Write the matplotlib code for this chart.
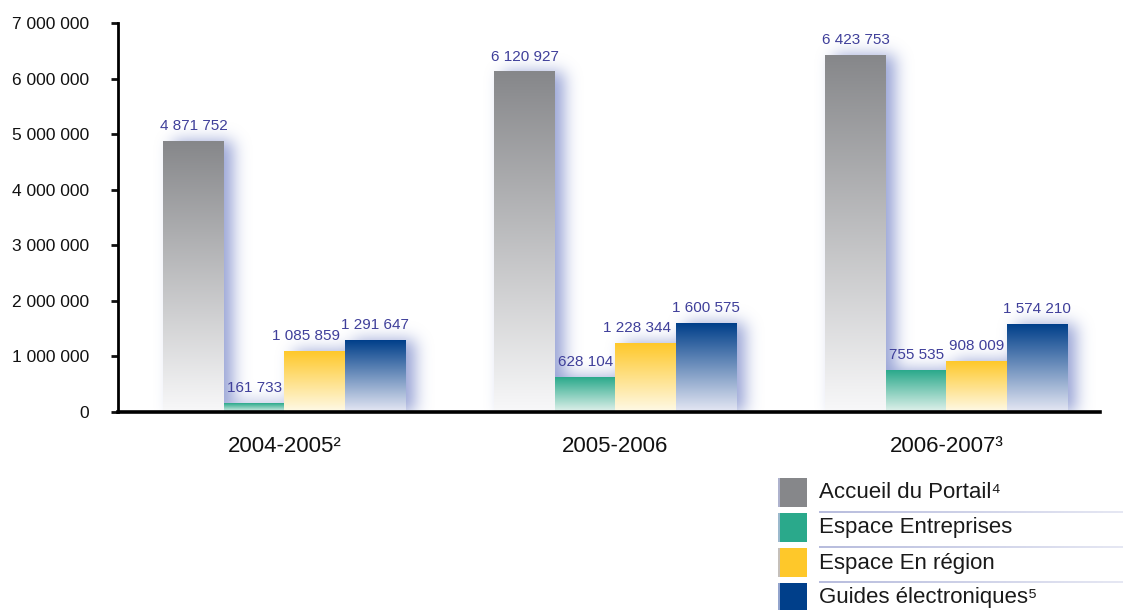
import numpy as np
import matplotlib.pyplot as plt
from matplotlib.colors import to_rgb
from matplotlib.patches import Rectangle

plt.rcParams['font.family'] = ['Liberation Sans', 'DejaVu Sans']

# Data
periods = ['2004-2005²', '2005-2006', '2006-2007³']
series = ['Accueil du Portail⁴', 'Espace Entreprises', 'Espace En région', 'Guides électroniques⁵']
accueil = [4871752, 6120927, 6423753]
entreprises = [161733, 628104, 755535]
region = [1085859, 1228344, 908009]
guides = [1291647, 1600575, 1574210]
values = [accueil, entreprises, region, guides]

top_colors = ['#86878a', '#2aa98b', '#fec82a', '#003f8a']
bottom_colors = ['#f8f8f9', '#e2f2ec', '#fffae8', '#e6e8f4']
label_color = '#3f3f9a'
# horizontal nudge of value labels (points) so neighbours don't collide
label_nudge = [[0, 0, 0], [0, 0, 0], [-6, -6, 0], [0, 0, 0]]


def fmt(v):
    return f'{int(v):,}'.replace(',', ' ')


W, H = 1123, 610
fig = plt.figure(figsize=(W / 100, H / 100), dpi=100)
ax = fig.add_axes([118 / W, 198 / H, 982 / W, 389 / H])

x = np.arange(len(periods))
width = 0.183
xmin, xmax = -0.503, 2.464
ymax = 7e6

bars = []
for i, vals in enumerate(values):
    b = ax.bar(x + (i - 1.5) * width, vals, width, color='none', edgecolor='none', zorder=3)
    bars.append(b)

# blurred bluish shadow behind the bars
gw, gh = 982, 389
gx = np.linspace(xmin, xmax, gw)
gy = np.linspace(0, ymax, gh)
mask = np.zeros((gh, gw))
shift = 9 / 331
for b in bars:
    for r in b:
        l, w, h = r.get_x(), r.get_width(), r.get_height()
        mask[np.ix_(gy <= h, (gx >= l + shift) & (gx <= l + w + shift))] = 1
sig = 8
k = np.exp(-0.5 * (np.arange(-3 * sig, 3 * sig + 1) / sig) ** 2)
k /= k.sum()
blur = np.apply_along_axis(lambda v: np.convolve(v, k, mode='same'), 1, mask)
blur = np.apply_along_axis(lambda v: np.convolve(v, k, mode='same'), 0, blur)
glow = np.zeros((gh, gw, 4))
glow[..., :3] = (0.55, 0.6, 0.82)
glow[..., 3] = np.clip(0.9 * blur, 0, 1)
ax.imshow(glow, origin='lower', extent=(xmin, xmax, 0, ymax), aspect='auto',
          interpolation='bilinear', zorder=1)

# gradient fill of each bar
t = np.linspace(0, 1, 256)[:, None]
for i, b in enumerate(bars):
    c0 = np.array(to_rgb(bottom_colors[i]))
    c1 = np.array(to_rgb(top_colors[i]))
    img = (c0 + (c1 - c0) * t).reshape(256, 1, 3)
    for j, (r, v) in enumerate(zip(b, values[i])):
        l, w, h = r.get_x(), r.get_width(), r.get_height()
        ax.imshow(img, origin='lower', extent=(l, l + w, 0, h), aspect='auto',
                  interpolation='bilinear', zorder=3)
        ax.annotate(fmt(v), (l + w / 2, h), xytext=(label_nudge[i][j], 6),
                    textcoords='offset points', ha='center', va='bottom',
                    fontsize=11, color=label_color, zorder=5)

ax.set_xlim(xmin, xmax)
ax.set_ylim(0, ymax)
ax.set_yticks(np.arange(0, ymax + 1, 1e6))
ax.set_yticklabels([fmt(v) for v in np.arange(0, ymax + 1, 1e6)])
ax.set_xticks(x)
ax.set_xticklabels(periods)
ax.tick_params(axis='y', length=5, width=2, pad=16, labelsize=12.5, colors='#111111')
ax.tick_params(axis='x', length=0, pad=17, labelsize=16, colors='#111111')
for s in ['top', 'right']:
    ax.spines[s].set_visible(False)
ax.spines['left'].set_linewidth(2)
ax.spines['bottom'].set_linewidth(2.6)
for s in ax.spines.values():
    s.set_zorder(6)

# legend in pixel coordinates
lax = fig.add_axes([770 / W, 0, 353 / W, 140 / H])
lax.axis('off')
line_grad = np.zeros((1, 300, 4))
line_grad[..., :3] = (0.72, 0.74, 0.87)
line_grad[..., 3] = np.linspace(1, 0.35, 300)
for i, name in enumerate(series):
    top = 478 + 35 * i
    lax.add_patch(Rectangle((778, top), 29, 29, facecolor=top_colors[i], edgecolor='none'))
    lax.add_patch(Rectangle((778, top), 2, 29, facecolor='#b9bedf', edgecolor='none', alpha=0.8))
    lax.text(819, top + 15, name, fontsize=16, va='center', ha='left', color='#1a1a1a')
    if i < 3:
        lax.imshow(line_grad, extent=(819, 1123, top + 35, top + 33), aspect='auto')
lax.set_xlim(770, 1123)
lax.set_ylim(610, 470)

fig.savefig('out.png', dpi=100)
